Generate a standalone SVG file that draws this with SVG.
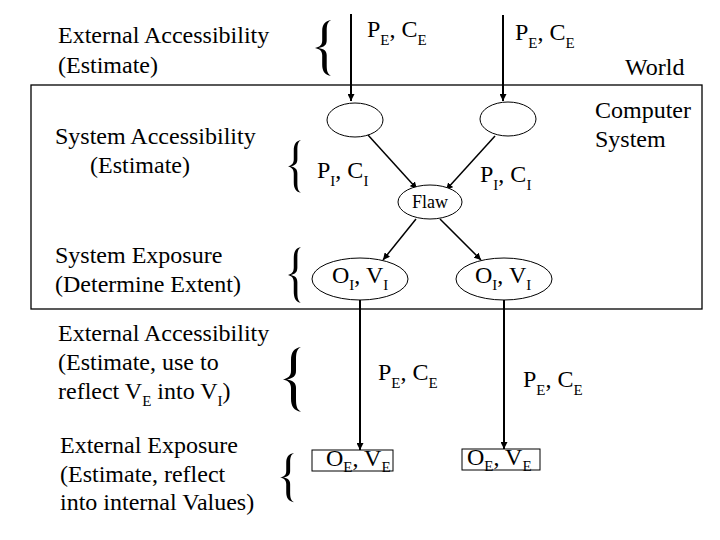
<svg xmlns="http://www.w3.org/2000/svg" width="720" height="540" viewBox="0 0 720 540">
<style>
text{font-family:"Liberation Serif","Times New Roman",Times,"DejaVu Serif","Noto Serif",serif;font-size:24px;fill:#000}
.sm{font-size:18px}
.node{fill:#fff;stroke:#000;stroke-width:1}
.c{stroke:#000;fill:none}
.thick{stroke-width:2}
.thin{stroke-width:1.5}
.brace{fill:#000}
</style>
<defs>
<marker id="ah" viewBox="0 0 10 10" refX="10" refY="5" markerWidth="7" markerHeight="7" markerUnits="userSpaceOnUse" orient="auto">
<path d="M0,0 L10,5 L0,10 Z" fill="#000"/>
</marker>
<path id="br" d="M18,0 C11,1 8,5 8,12 L8,22 C8,27 5,29 0,30 C5,31 8,33 8,38 L8,48 C8,55 11,59 18,60 C14,58 13,55 13,48 L13,38 C13,33 10,31 4,30 C10,29 13,27 13,22 L13,12 C13,5 14,2 18,0 Z"/>
</defs>
<rect width="720" height="540" fill="#fff"/>
<g id="computer-system"><rect x="31" y="85" width="671" height="224" fill="none" stroke="#000" stroke-width="1.3"/></g>
<g id="labels" font-family="Liberation Serif, serif">
<text x="58" y="43">External Accessibility</text>
<text x="58" y="73">(Estimate)</text>
<text x="55" y="144">System Accessibility</text>
<text x="90" y="173">(Estimate)</text>
<text x="55" y="263">System Exposure</text>
<text x="55" y="292">(Determine Extent)</text>
<text x="58" y="341">External Accessibility</text>
<text x="58" y="370">(Estimate, use to</text>
<text x="58" y="399">reflect V<tspan dy="7" font-size="15">E</tspan><tspan dy="-7"> into V</tspan><tspan dy="7" font-size="15">I</tspan><tspan dy="-7">)</tspan></text>
<text x="60" y="453">External Exposure</text>
<text x="60" y="482">(Estimate, reflect</text>
<text x="60" y="510">into internal Values)</text>
<text x="625" y="75">World</text>
<text x="595" y="118">Computer</text>
<text x="595" y="147">System</text>
</g>
<g id="braces" class="brace">
<use href="#br" transform="translate(315,20) scale(0.9,0.93)"/>
<use href="#br" transform="translate(288,140) scale(0.72,0.88)"/>
<use href="#br" transform="translate(288,247) scale(0.72,0.93)"/>
<use href="#br" transform="translate(283,347) scale(1,1.08)"/>
<use href="#br" transform="translate(280,453) scale(0.78,0.82)"/>
</g>
<g id="connectors">
<line class="c thick" x1="351" y1="14" x2="351" y2="101" marker-end="url(#ah)"/>
<line class="c thick" x1="503" y1="15" x2="503" y2="101" marker-end="url(#ah)"/>
<line class="c thin" x1="368" y1="135" x2="417" y2="189" marker-end="url(#ah)"/>
<line class="c thin" x1="495" y1="136" x2="446" y2="190" marker-end="url(#ah)"/>
<line class="c thin" x1="416" y1="219" x2="383" y2="260" marker-end="url(#ah)"/>
<line class="c thin" x1="440" y1="219" x2="481" y2="260" marker-end="url(#ah)"/>
<line class="c thick" x1="360" y1="300" x2="360" y2="450" marker-end="url(#ah)"/>
<line class="c thick" x1="504" y1="300" x2="504" y2="449" marker-end="url(#ah)"/>
</g>
<g id="edge-labels">
<text x="367" y="37">P<tspan dy="8" font-size="15">E</tspan><tspan dy="-8">, C</tspan><tspan dy="8" font-size="15">E</tspan></text>
<text x="515" y="40">P<tspan dy="8" font-size="15">E</tspan><tspan dy="-8">, C</tspan><tspan dy="8" font-size="15">E</tspan></text>
<text x="317" y="178">P<tspan dy="8" font-size="15">I</tspan><tspan dy="-8">, C</tspan><tspan dy="8" font-size="15">I</tspan></text>
<text x="480" y="182">P<tspan dy="8" font-size="15">I</tspan><tspan dy="-8">, C</tspan><tspan dy="8" font-size="15">I</tspan></text>
<text x="378" y="380">P<tspan dy="8" font-size="15">E</tspan><tspan dy="-8">, C</tspan><tspan dy="8" font-size="15">E</tspan></text>
<text x="523" y="387">P<tspan dy="8" font-size="15">E</tspan><tspan dy="-8">, C</tspan><tspan dy="8" font-size="15">E</tspan></text>
</g>
<g id="in1"><ellipse class="node" cx="355" cy="120" rx="28" ry="17"/></g>
<g id="in2"><ellipse class="node" cx="508" cy="119" rx="28" ry="17"/></g>
<g id="flaw"><ellipse class="node" cx="430" cy="202" rx="32" ry="17"/><text class="sm" x="430" y="208" text-anchor="middle">Flaw</text></g>
<g id="out1"><ellipse class="node" cx="360" cy="279" rx="48" ry="21"/><text x="332" y="283">O<tspan dy="7" font-size="15">I</tspan><tspan dy="-7">, V</tspan><tspan dy="7" font-size="15">I</tspan></text></g>
<g id="out2"><ellipse class="node" cx="504" cy="279" rx="48" ry="21"/><text x="475" y="283">O<tspan dy="7" font-size="15">I</tspan><tspan dy="-7">, V</tspan><tspan dy="7" font-size="15">I</tspan></text></g>
<g id="ext1"><rect class="node" x="312" y="450" width="81" height="21"/><text x="326" y="466">O<tspan dy="6" font-size="15">E</tspan><tspan dy="-6">, V</tspan><tspan dy="6" font-size="15">E</tspan></text></g>
<g id="ext2"><rect class="node" x="462" y="449" width="78" height="21"/><text x="467" y="465">O<tspan dy="6" font-size="15">E</tspan><tspan dy="-6">, V</tspan><tspan dy="6" font-size="15">E</tspan></text></g>
</svg>
